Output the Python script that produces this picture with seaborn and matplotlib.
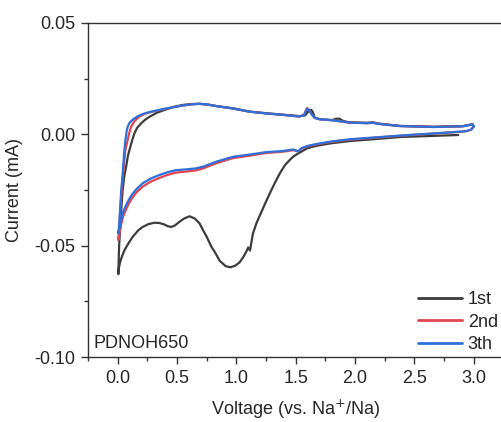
import pandas as pd
import seaborn as sns
import matplotlib.pyplot as plt
from matplotlib.lines import Line2D
from matplotlib.ticker import MultipleLocator

# cycle 1 (cathodic from 2.87 V down to 0 V, then anodic back to 3.0 V)
v_1st = [2.87, 2.6, 2.38, 2.2, 1.96, 1.8, 1.67, 1.6, 1.56, 1.52, 1.48, 1.45, 1.41, 1.37, 1.33,
         1.29, 1.25, 1.21, 1.17, 1.14, 1.125, 1.115, 1.10, 1.085, 1.06, 1.027, 0.99, 0.95, 0.91,
         0.86, 0.82, 0.79, 0.75, 0.72, 0.69, 0.65, 0.605, 0.56, 0.52, 0.48, 0.45, 0.42, 0.39,
         0.35, 0.31, 0.26, 0.21, 0.17, 0.127, 0.09, 0.057, 0.035, 0.02, 0.01, 0.005,
         0.012, 0.025, 0.035, 0.042, 0.055, 0.071, 0.085, 0.099, 0.12, 0.141, 0.165, 0.197,
         0.23, 0.268, 0.33, 0.408, 0.47, 0.549, 0.62, 0.69, 0.76, 0.83, 0.9, 0.97, 1.11, 1.25,
         1.4, 1.53, 1.58, 1.61, 1.63, 1.645, 1.66, 1.7, 1.81, 1.84, 1.87, 1.9, 1.95, 2.1, 2.15,
         2.2, 2.38, 2.66, 2.91, 2.99]
i_1st = [-0.0003, -0.0008, -0.0012, -0.002, -0.0030, -0.0040, -0.0052, -0.0062, -0.0074, -0.0086,
         -0.0100, -0.0115, -0.0138, -0.0172, -0.0212, -0.0256, -0.0302, -0.0350, -0.0398, -0.0445,
         -0.0490, -0.0522, -0.0508, -0.0525, -0.055, -0.0575, -0.0590, -0.0597, -0.0592, -0.0568,
         -0.053, -0.0505, -0.046, -0.0431, -0.040, -0.0378, -0.0368, -0.0378, -0.0393, -0.041,
         -0.0416, -0.0412, -0.0404, -0.0398, -0.0397, -0.0403, -0.0416, -0.0433, -0.046, -0.049,
         -0.052, -0.055, -0.0575, -0.060, -0.0628,
         -0.050, -0.038, -0.030, -0.025, -0.019, -0.0146, -0.010, -0.0071, -0.003, 0.0005, 0.003,
         0.0049, 0.0065, 0.0079, 0.0097, 0.0112, 0.0123, 0.0132, 0.0136, 0.0137, 0.0133, 0.0127,
         0.0122, 0.0117, 0.0102, 0.0095, 0.0088, 0.0082, 0.0085, 0.0105, 0.0110, 0.0100, 0.0075,
         0.0068, 0.0064, 0.0070, 0.0070, 0.0060, 0.0054, 0.0052, 0.0054, 0.0048, 0.0038, 0.0034,
         0.0037, 0.0045]

# cycle 2
v_2nd = [3.0, 2.98, 2.94, 2.88, 2.66, 2.45, 2.24, 1.96, 1.8, 1.67, 1.6, 1.55, 1.52, 1.50, 1.48,
         1.39, 1.25, 1.11, 0.97, 0.83, 0.72, 0.66, 0.58, 0.49, 0.42, 0.35, 0.28, 0.21, 0.16,
         0.127, 0.095, 0.071, 0.045, 0.029, 0.014, 0.005,
         0.012, 0.022, 0.035, 0.05, 0.065, 0.084, 0.1, 0.113, 0.14, 0.18, 0.23, 0.29, 0.36, 0.46,
         0.54, 0.63, 0.69, 0.76, 0.83, 0.97, 1.11, 1.25, 1.4, 1.53, 1.57, 1.595, 1.61, 1.635,
         1.66, 1.7, 1.81, 1.95, 2.1, 2.15, 2.2, 2.38, 2.66, 2.91, 2.99, 3.0]
i_2nd = [0.0035, 0.0021, 0.0014, 0.0011, 0.0003, -0.0004, -0.0012, -0.0024, -0.0034, -0.0046,
         -0.0054, -0.0064, -0.0077, -0.0074, -0.0071, -0.0078, -0.0084, -0.0096, -0.0107, -0.0130,
         -0.0153, -0.0162, -0.0167, -0.0172, -0.0182, -0.0196, -0.0212, -0.0235, -0.026, -0.0282,
         -0.031, -0.0337, -0.037, -0.0405, -0.0448, -0.0475,
         -0.043, -0.034, -0.024, -0.015, -0.007, -0.0026, 0.0012, 0.0034, 0.0058, 0.0079, 0.0092,
         0.0102, 0.0110, 0.0121, 0.0129, 0.0135, 0.0137, 0.0134, 0.0127, 0.0116, 0.0102, 0.0094,
         0.0087, 0.0080, 0.0087, 0.0118, 0.0112, 0.0090, 0.0074, 0.0068, 0.0063, 0.0053, 0.0050,
         0.0052, 0.0047, 0.0037, 0.0033, 0.0036, 0.0045, 0.0035]

# cycle 3
v_3th = [3.0, 2.98, 2.94, 2.88, 2.66, 2.45, 2.24, 1.96, 1.8, 1.67, 1.6, 1.55, 1.52, 1.50, 1.48,
         1.39, 1.25, 1.11, 0.97, 0.83, 0.72, 0.66, 0.58, 0.49, 0.42, 0.35, 0.28, 0.21, 0.16,
         0.127, 0.095, 0.071, 0.045, 0.029, 0.014, 0.005,
         0.012, 0.02, 0.03, 0.042, 0.055, 0.065, 0.075, 0.084, 0.1, 0.127, 0.165, 0.21, 0.26,
         0.32, 0.39, 0.46, 0.54, 0.63, 0.69, 0.76, 0.83, 0.97, 1.11, 1.25, 1.4, 1.53, 1.57,
         1.595, 1.61, 1.635, 1.66, 1.7, 1.81, 1.95, 2.1, 2.15, 2.2, 2.38, 2.66, 2.91, 2.99, 3.0]
i_3th = [0.0036, 0.0022, 0.0015, 0.0012, 0.0004, -0.0003, -0.0011, -0.0022, -0.0032, -0.0044,
         -0.0052, -0.0062, -0.0076, -0.0072, -0.0068, -0.0075, -0.0080, -0.0091, -0.0101, -0.0123,
         -0.0145, -0.0153, -0.0157, -0.0161, -0.0170, -0.0183, -0.0198, -0.022, -0.0245, -0.0266,
         -0.0292, -0.0318, -0.035, -0.0386, -0.0425, -0.0445,
         -0.041, -0.034, -0.025, -0.0176, -0.008, -0.0026, 0.0012, 0.0034, 0.0052, 0.0066, 0.0080,
         0.0091, 0.0099, 0.0106, 0.0114, 0.0121, 0.0129, 0.0135, 0.0137, 0.0134, 0.0127, 0.0116,
         0.0102, 0.0094, 0.0087, 0.0080, 0.0086, 0.0114, 0.0110, 0.0090, 0.0074, 0.0068, 0.0063,
         0.0053, 0.0050, 0.0052, 0.0047, 0.0037, 0.0033, 0.0036, 0.0045, 0.0036]

cycles = ['1st', '2nd', '3th']
colors = ['#3c3c3c', '#e0454f', '#2e6fd9']

# build a long table for seaborn
frames = []
for name, v, i in zip(cycles, [v_1st, v_2nd, v_3th], [i_1st, i_2nd, i_3th]):
    frames.append(pd.DataFrame({'Voltage': v, 'Current': i, 'Cycle': name}))
df = pd.concat(frames, ignore_index=True)

sns.set_style('ticks')
plt.rcParams['font.family'] = ['Liberation Sans', 'DejaVu Sans']

fig = plt.figure(figsize=(5.01, 4.22), dpi=100)
ax = fig.add_axes([0.1757, 0.154, 0.829, 0.7915])

sns.lineplot(data=df, x='Voltage', y='Current', hue='Cycle', hue_order=cycles,
             palette=colors, sort=False, estimator=None, linewidth=1.6, legend=False, ax=ax)

ax.set_xlim(-0.25, 3.25)
ax.set_ylim(-0.10, 0.05)
ax.xaxis.set_major_locator(MultipleLocator(0.5))
ax.xaxis.set_minor_locator(MultipleLocator(0.25))
ax.yaxis.set_major_locator(MultipleLocator(0.05))
ax.yaxis.set_minor_locator(MultipleLocator(0.025))
ax.xaxis.set_major_formatter(plt.FormatStrFormatter('%.1f'))
ax.yaxis.set_major_formatter(plt.FormatStrFormatter('%.2f'))
ax.tick_params(which='major', length=5, width=1, labelsize=13, pad=4, color='#333333')
ax.tick_params(which='minor', length=3, width=1, color='#333333')
for s in ax.spines.values():
    s.set_color('#333333')
    s.set_linewidth(1)

ax.set_xlabel('Voltage (vs. Na$^{+}$/Na)', fontsize=13, labelpad=8)
ax.set_ylabel('Current (mA)', fontsize=13, labelpad=8)

ax.text(-0.2, -0.096, 'PDNOH650', fontsize=13, va='baseline', ha='left')

handles = [Line2D([], [], color=c, linewidth=2) for c in colors]
ax.legend(handles, cycles, loc='lower right', bbox_to_anchor=(0.987, 0.012), frameon=False,
          fontsize=13, handlelength=2.4, handletextpad=0.35, labelspacing=0.3, borderpad=0,
          borderaxespad=0)

plt.savefig('out.png', dpi=100)
plt.close()
